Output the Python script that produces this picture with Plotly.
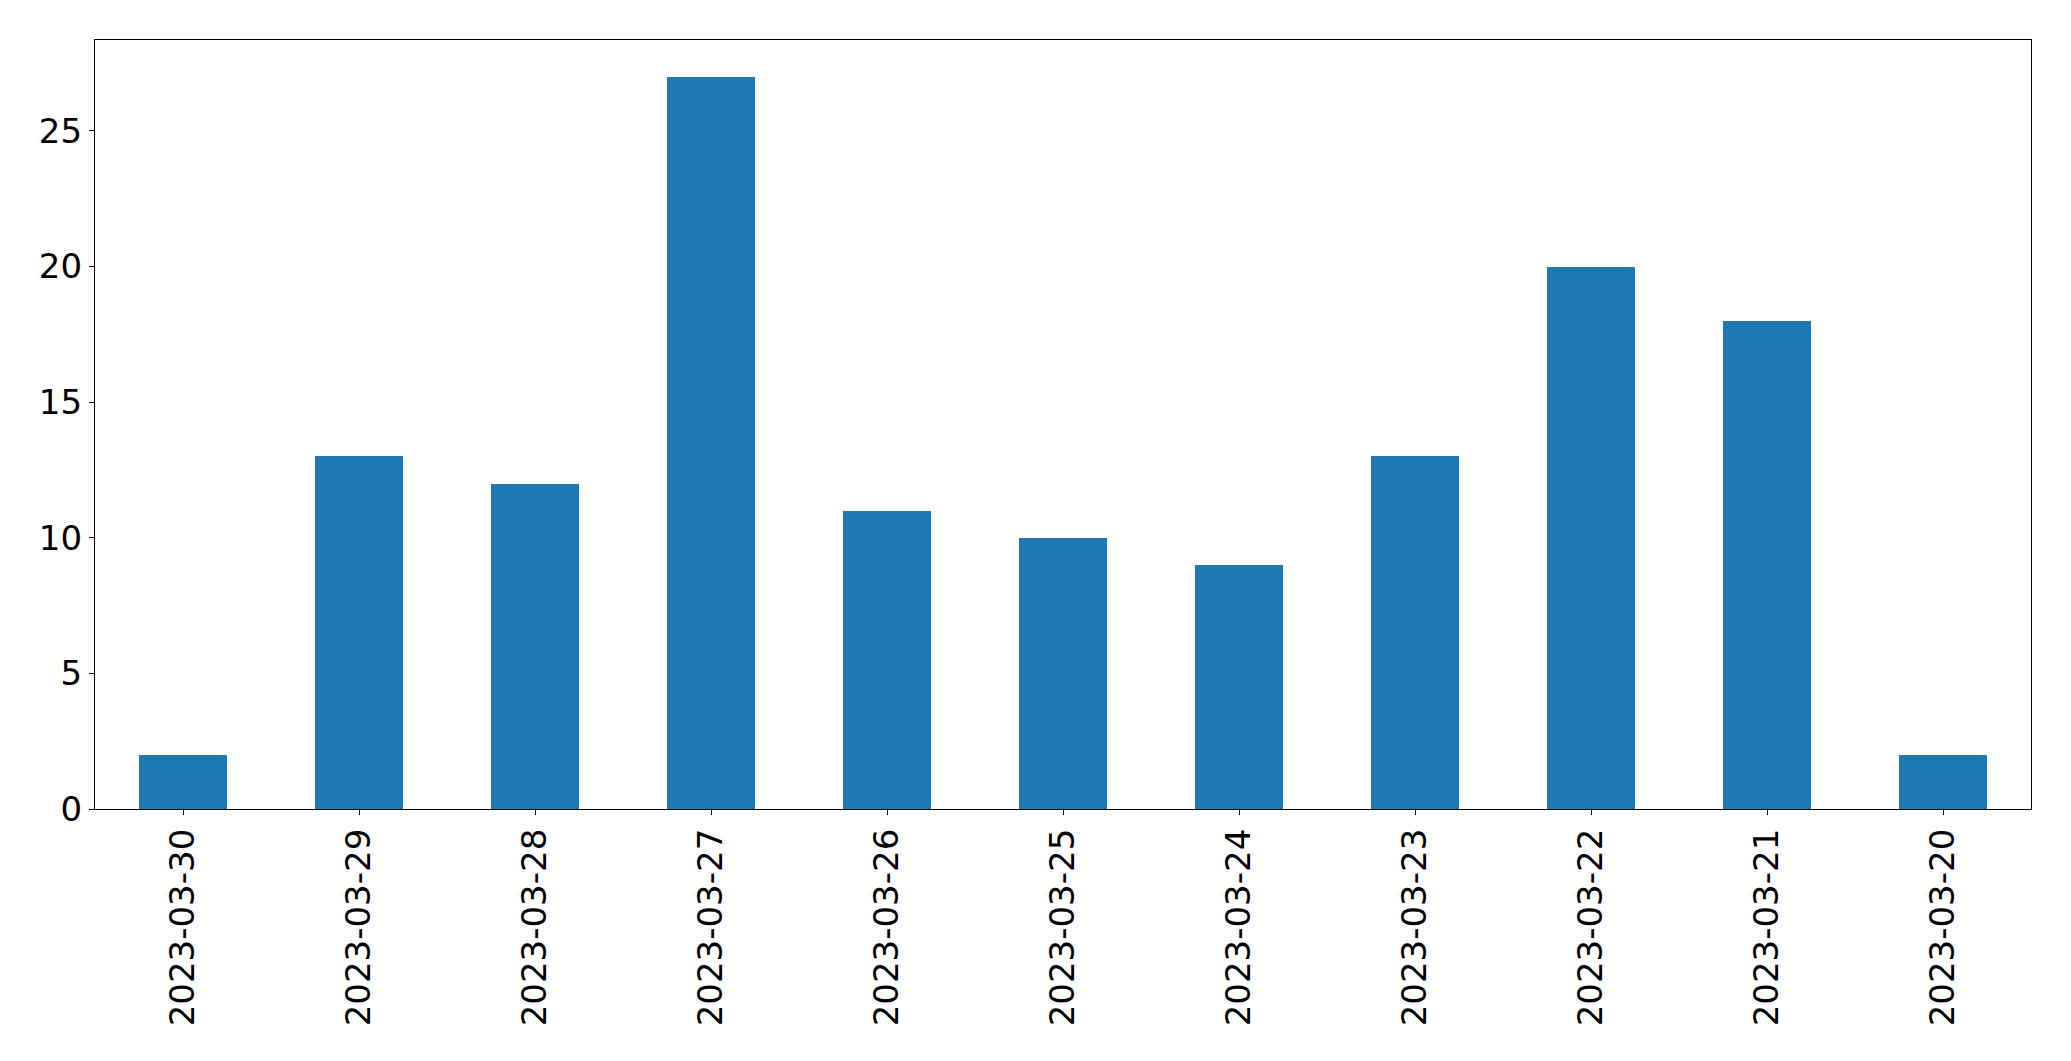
import plotly.graph_objects as go

categories = ["2023-03-30", "2023-03-29", "2023-03-28", "2023-03-27", "2023-03-26",
              "2023-03-25", "2023-03-24", "2023-03-23", "2023-03-22", "2023-03-21",
              "2023-03-20"]
values = [2, 13, 12, 27, 11, 10, 9, 13, 20, 18, 2]
y_ticks = [0, 5, 10, 15, 20, 25]

W, H = 2071, 1061
fig = go.Figure(go.Bar(x=categories, y=values, width=0.5, marker_color="#1f77b4",
                       marker_line_width=0))

fig.update_layout(
    width=W, height=H,
    margin=dict(l=94.5, r=39.5, t=39.5, b=252, autoexpand=False),
    paper_bgcolor="white", plot_bgcolor="white",
    font=dict(family="DejaVu Sans", size=34, color="black"),
    showlegend=False,
    bargap=0,
)
fig.update_xaxes(
    type="category", range=[-0.5, len(categories) - 0.5],
    showline=True, linecolor="black", linewidth=1.3, mirror=True,
    ticks="outside", ticklen=5, tickwidth=1.3, tickcolor="black",
    tickangle=-90, showgrid=False, zeroline=False,
    ticklabelstandoff=0,
)
fig.update_yaxes(
    range=[0, 28.35], tickvals=y_ticks,
    showline=True, linecolor="black", linewidth=1.3, mirror=True,
    ticks="outside", ticklen=5, tickwidth=1.3, tickcolor="black",
    showgrid=False, zeroline=False,
    ticklabelstandoff=0,
)
fig.write_html("out.html")
